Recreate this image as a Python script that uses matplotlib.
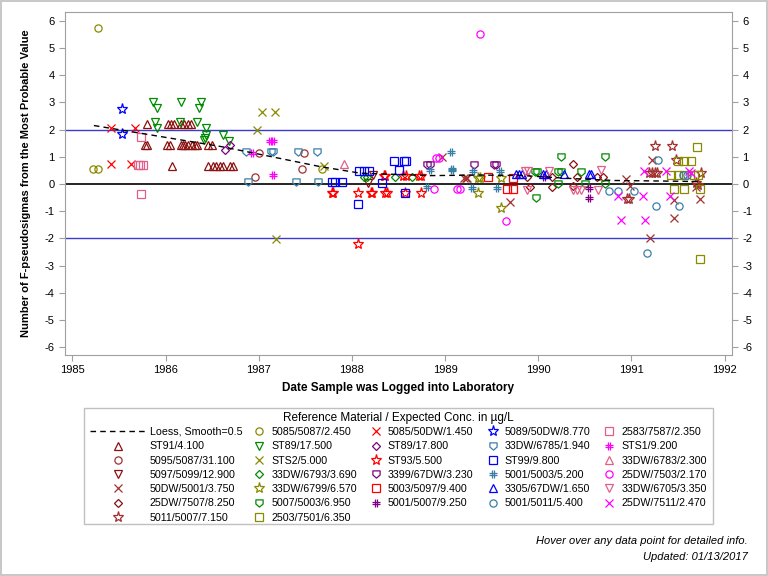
import matplotlib
matplotlib.use("Agg")
import matplotlib.pyplot as plt
from matplotlib.path import Path
from matplotlib.patches import Rectangle

plt.rcParams['font.family'] = ['Liberation Sans', 'DejaVu Sans']
plt.rcParams['axes.unicode_minus'] = False

# ---- data ----
loess_x = [1985.23, 1986.59, 1986.87, 1987.66, 1988.09, 1988.84, 1989.38, 1989.84, 1990.31, 1990.82, 1991.35, 1991.75]
loess_y = [2.15, 1.38, 1.19, 0.64, 0.40, 0.31, 0.33, 0.31, 0.21, 0.13, 0.11, 0.09]

st91_x = [1985.80, 1986.03, 1986.06, 1986.09, 1986.16, 1986.20, 1986.24, 1986.27,
          1985.78, 1985.80, 1986.02, 1986.05, 1986.16, 1986.19, 1986.21, 1986.24, 1986.28, 1986.32, 1986.34, 1986.46, 1986.50,
          1986.07, 1986.46, 1986.51, 1986.54, 1986.58, 1986.62, 1986.69, 1986.72]
st91_y = [2.2] * 8 + [1.44] * 13 + [0.665] * 8
s5095_x = [1987.00, 1987.49, 1987.46, 1986.955]
s5095_y = [1.13, 1.13, 0.54, 0.25]
s5097_x = [1988.17, 1988.23]
s5097_y = [0.05, 0.33]
dw50_x = [1988.97, 1989.20, 1989.22, 1989.24, 1989.70, 1990.94, 1990.98, 1991.20, 1991.22, 1991.46, 1991.46, 1991.74, 1991.69]
dw50_y = [1.01, 0.21, 0.21, 0.21, -0.65, 0.18, -0.07, -1.99, 0.89, -0.59, -1.26, -0.56, -0.1]
dw7507_x = [1989.88, 1990.15, 1990.37, 1990.42, 1990.63, 1990.69, 1989.91, 1990.15, 1990.37]
dw7507_y = [0.27, 0.27, 0.74, 0.27, 0.27, 0.27, -0.1, -0.1, -0.07]
s5011_x = [1991.25, 1991.44, 1991.19, 1991.22, 1991.25, 1991.28, 1991.75, 1991.69, 1990.95, 1990.97, 1991.48, 1991.72]
s5011_y = [1.38, 1.38, 0.40, 0.40, 0.40, 0.40, 0.40, 0.03, -0.56, -0.56, 0.89, -0.05]
s5085a_x = [1985.27, 1985.22, 1985.27, 1987.68]
s5085a_y = [5.73, 0.555, 0.555, 0.54]
st89a_x = [1985.87, 1985.91, 1986.17, 1986.385, 1986.36, 1985.89, 1985.91, 1986.15, 1986.34, 1986.43, 1986.435, 1986.41, 1986.62, 1986.68, 1986.42]
st89a_y = [3.03, 2.81, 3.03, 3.03, 2.81, 2.29, 2.07, 2.29, 2.29, 2.07, 1.8, 1.62, 1.8, 1.58, 1.70]
sts2_x = [1987.04, 1987.17, 1986.98, 1987.19, 1987.70]
sts2_y = [2.64, 2.64, 1.99, -2.03, 0.68]
dw6793_x = [1988.13, 1988.16, 1988.46, 1988.65]
dw6793_y = [0.25, 0.25, 0.25, 0.25]
dw6799_x = [1989.35, 1989.37, 1989.60, 1989.35, 1989.60]
dw6799_y = [0.21, 0.21, 0.21, -0.34, -0.89]
s5007_x = [1989.97, 1989.99, 1990.21, 1990.24, 1990.24, 1990.46, 1990.72, 1989.98, 1990.21, 1990.50, 1990.72]
s5007_y = [0.46, 0.46, 0.46, 0.46, 1.01, 0.46, 1.01, -0.5, 0.0, 0.0, 0.0]
s2503_x = [1991.50, 1991.56, 1991.64, 1991.70, 1991.43, 1991.50, 1991.56, 1991.67, 1991.72, 1991.46, 1991.56, 1991.74, 1991.74]
s2503_y = [0.85, 0.85, 0.85, 1.35, 0.33, 0.33, 0.33, 0.33, 0.33, -0.18, -0.18, -0.2, -2.76]
s5085b_x = [1985.41, 1985.675, 1985.41, 1985.63]
s5085b_y = [2.06, 2.06, 0.74, 0.74]
st89b_x = [1986.64, 1986.69]
st89b_y = [1.25, 1.44]
st93_x = [1987.79, 1987.80, 1988.06, 1988.20, 1988.22, 1988.35, 1988.38, 1988.57, 1988.74,
          1988.34, 1988.36, 1988.55, 1988.58, 1988.72, 1988.74, 1988.07]
st93_y = [-0.34] * 9 + [0.3] * 6 + [-2.21]
s3399_x = [1988.81, 1988.84, 1989.31, 1989.52, 1989.55]
s3399_y = [0.70, 0.70, 0.70, 0.70, 0.70]
s5003_x = [1989.46, 1989.73, 1989.67, 1989.73]
s5003_y = [0.27, 0.21, -0.19, -0.19]
s5001a_x = [1990.06, 1990.55, 1990.55]
s5001a_y = [0.27, -0.13, -0.5]
s5089_x = [1985.535, 1985.535]
s5089_y = [2.75, 1.84]
dw6785_x = [1986.86, 1987.13, 1987.15, 1987.42, 1987.63, 1986.88, 1987.40, 1987.64]
dw6785_y = [1.19, 1.19, 1.19, 1.19, 1.19, 0.07, 0.07, 0.07]
st99_x = [1988.08, 1988.13, 1988.18, 1988.45, 1988.56, 1988.58, 1988.51, 1987.79, 1987.82, 1987.89, 1988.07, 1988.32, 1988.57]
st99_y = [0.47, 0.47, 0.47, 0.86, 0.86, 0.86, 0.52, 0.07, 0.07, 0.07, -0.73, 0.05, -0.34]
s5001b_x = [1988.84, 1988.81, 1989.06, 1989.07, 1989.07, 1989.30, 1989.59, 1989.29, 1989.56]
s5001b_y = [0.52, -0.12, 1.17, 0.52, 0.55, 0.48, 0.48, -0.13, -0.13]
s3305_x = [1989.76, 1989.79, 1989.83, 1990.05, 1990.08, 1990.28, 1990.55, 1990.57]
s3305_y = [0.37] * 8
s5001c_x = [1990.76, 1990.86, 1991.03, 1991.26, 1991.51, 1991.17, 1991.29, 1991.55, 1991.60]
s5001c_y = [-0.24, -0.24, -0.24, -0.8, -0.8, -2.55, 0.89, 0.33, 0.33]
s2583_x = [1985.74, 1985.70, 1985.73, 1985.76, 1985.74]
s2583_y = [1.73, 0.69, 0.69, 0.69, -0.375]
sts1_x = [1986.93, 1987.12, 1987.15, 1987.15]
sts1_y = [1.15, 1.58, 1.58, 0.335]
dw6783_x = [1987.91]
dw6783_y = [0.74]
dw7503_x = [1989.37, 1988.90, 1988.94, 1988.88, 1989.13, 1989.16, 1989.65]
dw7503_y = [5.51, 0.95, 0.95, -0.18, -0.19, -0.19, -1.35]
dw6705_x = [1989.86, 1989.89, 1990.12, 1990.67, 1989.88, 1990.37, 1990.42, 1990.46, 1990.64]
dw6705_y = [0.48, 0.48, 0.48, 0.52, -0.22, -0.22, -0.22, -0.22, -0.22]
dw7511_x = [1991.14, 1991.37, 1991.62, 1991.64, 1990.86, 1990.89, 1991.12, 1991.15, 1991.41]
dw7511_y = [0.48, 0.48, 0.48, 0.40, -0.44, -1.32, -0.44, -1.32, -0.44]

# ---- custom SAS-like markers ----
homedown = Path([(-1, 1), (1, 1), (1, -0.15), (0, -1), (-1, -0.15), (-1, 1)],
                [Path.MOVETO, Path.LINETO, Path.LINETO, Path.LINETO, Path.LINETO, Path.CLOSEPOLY])
hash_mk = Path([(-0.35, -1), (-0.35, 1), (0.35, -1), (0.35, 1), (-1, -0.35), (1, -0.35), (-1, 0.35), (1, 0.35)],
               [Path.MOVETO, Path.LINETO] * 4)

darkred = '#8B1010'
brown = '#A33030'
olive = '#8A8A00'
green = '#008A00'
red = '#FF0000'
purple = '#800080'
blue = '#0000FF'
steel = '#3A7FA8'
pink = '#E0608A'
magenta = '#FF00FF'

series = [
    (st91_x, st91_y, 'ST91/4.100', '^', darkred, 5.2),
    (s5095_x, s5095_y, '5095/5087/31.100', 'o', brown, 5.2),
    (s5097_x, s5097_y, '5097/5099/12.900', 'v', darkred, 5.2),
    (dw50_x, dw50_y, '50DW/5001/3.750', 'x', brown, 5.2),
    (dw7507_x, dw7507_y, '25DW/7507/8.250', 'D', darkred, 4.5),
    (s5011_x, s5011_y, '5011/5007/7.150', '*', brown, 8),
    (s5085a_x, s5085a_y, '5085/5087/2.450', 'o', olive, 5.2),
    (st89a_x, st89a_y, 'ST89/17.500', 'v', green, 5.2),
    (sts2_x, sts2_y, 'STS2/5.000', 'x', olive, 5.2),
    (dw6793_x, dw6793_y, '33DW/6793/3.690', 'D', green, 4.5),
    (dw6799_x, dw6799_y, '33DW/6799/6.570', '*', olive, 8),
    (s5007_x, s5007_y, '5007/5003/6.950', homedown, green, 5.2),
    (s2503_x, s2503_y, '2503/7501/6.350', 's', olive, 5.2),
    (s5085b_x, s5085b_y, '5085/50DW/1.450', 'x', red, 5.2),
    (st89b_x, st89b_y, 'ST89/17.800', 'D', purple, 4.5),
    (st93_x, st93_y, 'ST93/5.500', '*', red, 8),
    (s3399_x, s3399_y, '3399/67DW/3.230', homedown, purple, 5.2),
    (s5003_x, s5003_y, '5003/5097/9.400', 's', red, 5.2),
    (s5001a_x, s5001a_y, '5001/5007/9.250', hash_mk, purple, 5.2),
    (s5089_x, s5089_y, '5089/50DW/8.770', '*', blue, 8),
    (dw6785_x, dw6785_y, '33DW/6785/1.940', homedown, steel, 5.2),
    (st99_x, st99_y, 'ST99/9.800', 's', blue, 5.2),
    (s5001b_x, s5001b_y, '5001/5003/5.200', hash_mk, steel, 5.2),
    (s3305_x, s3305_y, '3305/67DW/1.650', '^', blue, 5.2),
    (s5001c_x, s5001c_y, '5001/5011/5.400', 'o', steel, 5.2),
    (s2583_x, s2583_y, '2583/7587/2.350', 's', pink, 5.2),
    (sts1_x, sts1_y, 'STS1/9.200', hash_mk, magenta, 5.2),
    (dw6783_x, dw6783_y, '33DW/6783/2.300', '^', pink, 5.2),
    (dw7503_x, dw7503_y, '25DW/7503/2.170', 'o', magenta, 5.2),
    (dw6705_x, dw6705_y, '33DW/6705/3.350', 'v', pink, 5.2),
    (dw7511_x, dw7511_y, '25DW/7511/2.470', 'x', magenta, 5.2),
]

fig = plt.figure(figsize=(7.68, 5.76), dpi=100, linewidth=1.5, edgecolor='#C8C8C8')
W, H = 768.0, 576.0
ax = fig.add_axes([65 / W, 1 - 355 / H, 667 / W, 343 / H])

ax.axhline(2, color='#3A3ACF', lw=1, zorder=1)
ax.axhline(-2, color='#3A3ACF', lw=1, zorder=1)
ax.axhline(0, color='black', lw=1.2, zorder=1)

handles = []
lo, = ax.plot(loess_x, loess_y, color='black', ls=(0, (4, 3)), lw=1, zorder=3,
              label='Loess, Smooth=0.5')
for xs, ys, lab, mk, col, ms in series:
    h, = ax.plot(xs, ys, ls='none', marker=mk, ms=ms, mfc='none', mec=col, mew=0.9,
                 label=lab, zorder=2)
    handles.append(h)

ax.set_xlim(1984.92, 1992.08)
ax.set_ylim(-6.28, 6.32)
ax.set_xticks(range(1985, 1993))
ax.set_yticks(range(-6, 7))
for sp in ax.spines.values():
    sp.set_color('#A0A0A0')
ax.tick_params(axis='both', colors='#A0A0A0', labelcolor='black', labelsize=8, length=4, width=0.8)
ax.tick_params(axis='y', right=True, labelright=True)
ax.set_xlabel('Date Sample was Logged into Laboratory', fontsize=8.5, fontweight='bold', labelpad=5)
ax.set_ylabel('Number of F-pseudosigmas from the Most Probable Value', fontsize=8, fontweight='bold', labelpad=10)

# legend frame and title
fig.patches.append(Rectangle((84 / W, 1 - 524 / H), 629 / W, 116 / H, transform=fig.transFigure,
                             fill=False, edgecolor='#C0C0C0', lw=1))
fig.text(398 / W, 1 - 418 / H, 'Reference Material / Expected Conc. in µg/L', fontsize=8.5,
         ha='center', va='center')

leg_kw = dict(fontsize=7.7, frameon=False, loc='upper left', borderpad=0, borderaxespad=0,
              labelspacing=0.4, numpoints=1, bbox_transform=fig.transFigure)
legA = fig.legend([lo] + handles[:6], [lo.get_label()] + [h.get_label() for h in handles[:6]],
                  bbox_to_anchor=(90 / W, 1 - 427 / H), handlelength=5.2, handletextpad=0.4, **leg_kw)
legB = fig.legend(handles[6:], [h.get_label() for h in handles[6:]], ncol=4,
                  bbox_to_anchor=(253 / W, 1 - 427 / H), handlelength=1.2, handletextpad=0.5,
                  columnspacing=1.2, **leg_kw)

fig.text(748 / W, 1 - 541 / H, 'Hover over any data point for detailed info.', fontsize=8,
         style='italic', ha='right', va='center')
fig.text(748 / W, 1 - 557 / H, 'Updated: 01/13/2017', fontsize=8, style='italic', ha='right', va='center')

fig.savefig('out.png', dpi=100)
